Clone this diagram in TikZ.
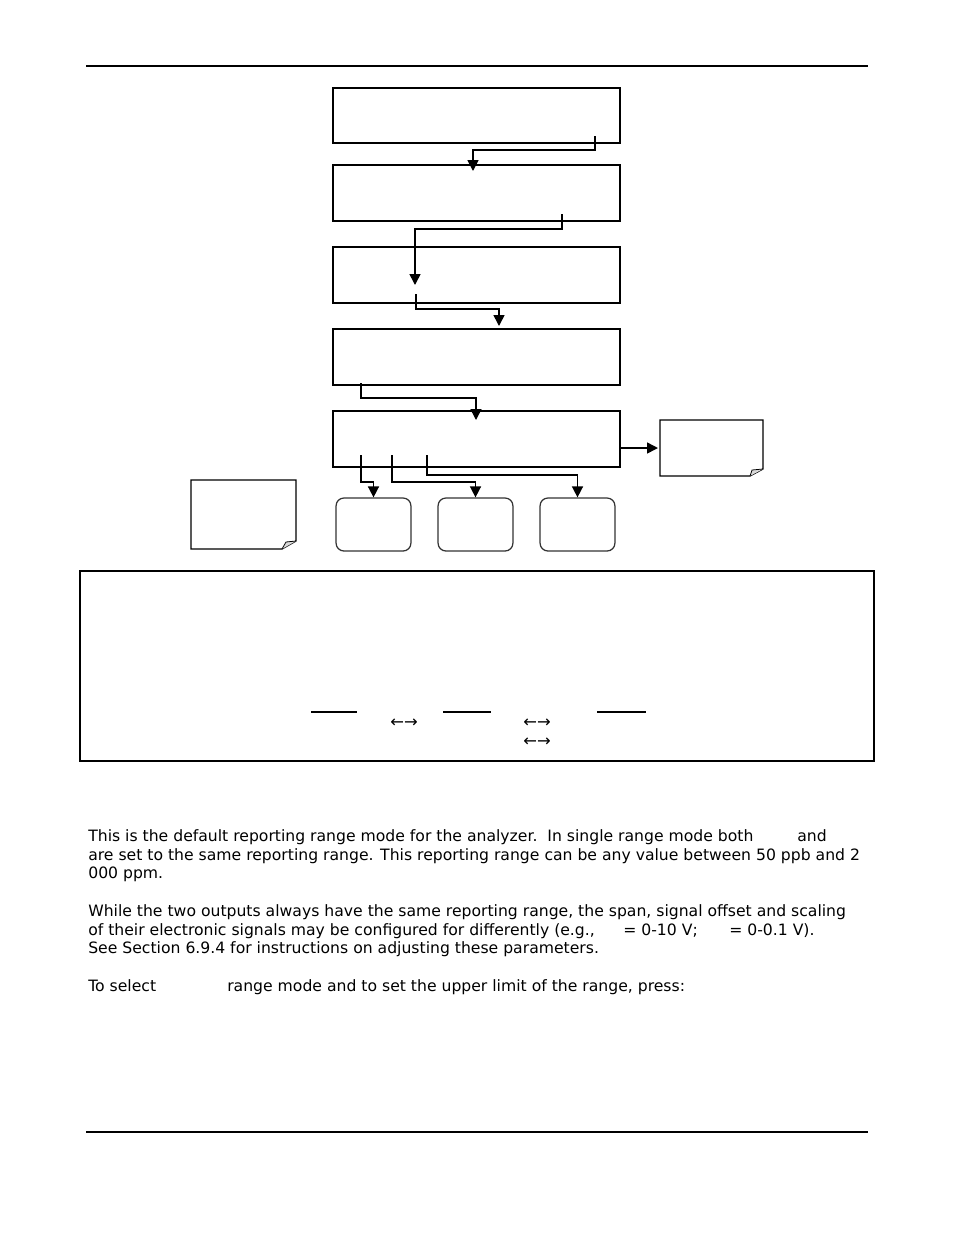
\documentclass[tikz,border=0pt]{standalone}
\usepackage{fontspec}
\setmainfont{DejaVu Sans}
\usetikzlibrary{arrows.meta}
\tikzset{
  >={Triangle[length=7pt,width=7pt]},
  screen/.style={draw, line width=1.3pt, minimum width=184pt, minimum height=35.6pt, inner sep=0pt},
  keybox/.style={draw=black!80, line width=0.8pt, rounded corners=5pt, minimum width=48pt, minimum height=34pt, inner sep=0pt},
  panel/.style={draw, line width=1pt, minimum width=509.4pt, minimum height=121.9pt, inner sep=0pt},
  flow/.style={->, line width=1pt},
  rule/.style={line width=0.7pt},
  note/.style={draw, line width=0.8pt},
  fold/.style={draw, fill=gray!30, line width=0.5pt},
  uline/.style={line width=1.3pt},
  txt/.style={anchor=base west, inner sep=0pt, font=\fontsize{10.03}{12}\selectfont},
  swap/.style={anchor=base, inner sep=0pt, font=\fontsize{10.5}{12}\selectfont}
}
\begin{document}
\begin{tikzpicture}[x=0.6415pt,y=-0.6415pt]
  \useasboundingbox (0,0) rectangle (954,1235);
  \draw[rule] (86,66) -- (868,66);
  \draw[rule] (86,1132) -- (868,1132);

  \node[screen] (menu1) at (476.5,115.5) {};
  \node[screen] (menu2) at (476.5,193) {};
  \node[screen] (menu3) at (476.5,275) {};
  \node[screen] (menu4) at (476.5,357) {};
  \node[screen] (menu5) at (476.5,439) {};

  \node[keybox] (keyA) at (373.5,524.5) {};
  \node[keybox] (keyB) at (475.5,524.5) {};
  \node[keybox] (keyC) at (577.5,524.5) {};

  \coordinate (m1out) at (595,136);
  \coordinate (m2in) at (473,171);
  \coordinate (m2out) at (562,214);
  \coordinate (m3in) at (415,285);
  \coordinate (m3out) at (416,294);
  \coordinate (m4in) at (499,326);
  \coordinate (m4out) at (361,383);
  \coordinate (m5in) at (476,420);
  \coordinate (m5a) at (361,455);
  \coordinate (m5b) at (392,455);
  \coordinate (m5c) at (427,455);
  \coordinate (noteR) at (658,448);

  \draw[flow] (m1out) -- ++(0,14) -| (m2in);
  \draw[flow] (m2out) -- ++(0,15) -| (m3in);
  \draw[flow] (m3out) -- ++(0,15) -| (m4in);
  \draw[flow] (m4out) -- ++(0,15) -| (m5in);
  \draw[flow] (menu5.east |- noteR) -- (noteR);
  \draw[flow] (m5a) -- ++(0,27) -| (keyA.north);
  \draw[flow] (m5b) -- ++(0,27) -| (keyB.north);
  \draw[flow] (m5c) -- ++(0,20) -| (keyC.north);

  \draw[note] (660,420) -- (763,420) -- (763,469) -- (750,476) -- (660,476) -- cycle;
  \draw[fold] (763,469) -- (752,470) -- (750,476);
  \draw[note] (191,480) -- (296,480) -- (296,541) -- (282,549) -- (191,549) -- cycle;
  \draw[fold] (296,541) -- (286,542) -- (282,549);

  \node[panel] (legend) at (477,666) {};
  \draw[uline] (311,712) -- (357,712);
  \draw[uline] (443,712) -- (491,712);
  \draw[uline] (597,712) -- (646,712);
  \node[swap] (sw1) at (404,727) {←→};
  \node[swap] (sw2) at (537,727) {←→};
  \node[swap] (sw3) at (537,746) {←→};

  \node[txt] (p1) at (88,841) {This is the default reporting range mode for the analyzer.\ \ In single range mode both};
  \node[txt] (p1b) at (797,841) {and};
  \node[txt] (p2) at (88,860) {are set to the same reporting range. This reporting range can be any value between 50 ppb and 2};
  \node[txt] (p3) at (88,878) {000 ppm.};
  \node[txt] (p4) at (88,916) {While the two outputs always have the same reporting range, the span, signal offset and scaling};
  \node[txt] (p5) at (88,935) {of their electronic signals may be configured for differently (e.g.,};
  \node[txt] (p5b) at (623,935) {= 0-10 V;};
  \node[txt] (p5c) at (729,935) {= 0-0.1 V).};
  \node[txt] (p6) at (88,953) {See Section 6.9.4 for instructions on adjusting these parameters.};
  \node[txt] (p7) at (88,991) {To select};
  \node[txt] (p7b) at (227,991) {range mode and to set the upper limit of the range, press:};
\end{tikzpicture}
\end{document}
